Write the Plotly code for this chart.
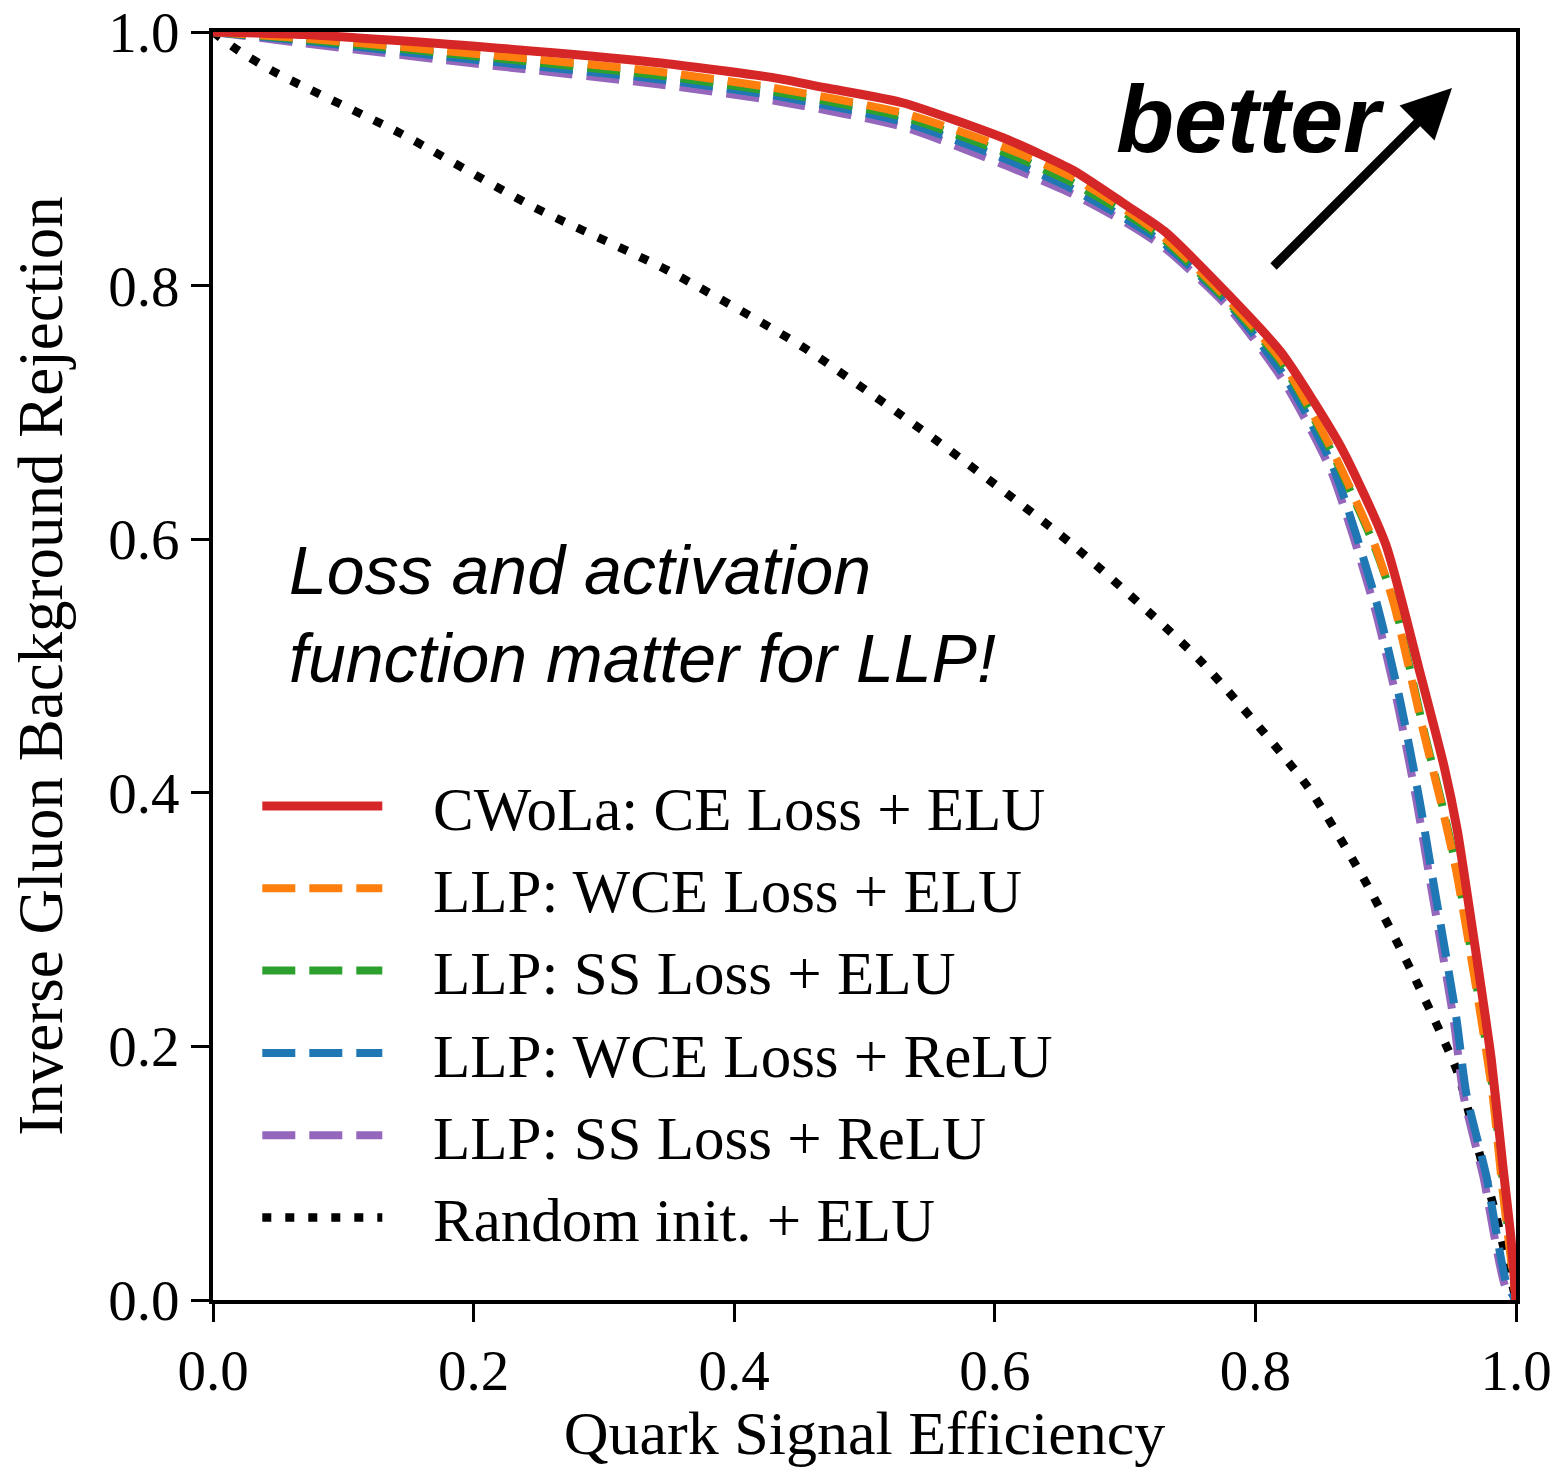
import plotly.graph_objects as go

# ---- data ----
names = [
    "CWoLa: CE Loss + ELU",
    "LLP: WCE Loss + ELU",
    "LLP: SS Loss + ELU",
    "LLP: WCE Loss + ReLU",
    "LLP: SS Loss + ReLU",
    "Random init. + ELU",
]

cwola_x = [0, 0.07, 0.21, 0.34, 0.43, 0.47, 0.53, 0.61, 0.66, 0.70, 0.73, 0.78, 0.82, 0.865, 0.90, 0.926, 0.945, 0.955, 0.964, 0.972, 0.981, 0.990, 0.996, 1.0]
cwola_y = [1.0, 0.998, 0.988, 0.976, 0.964, 0.956, 0.944, 0.915, 0.891, 0.864, 0.843, 0.792, 0.747, 0.674, 0.596, 0.496, 0.42, 0.37, 0.31, 0.255, 0.19, 0.105, 0.05, 0.0]

wce_elu_x = [0, 0.07, 0.21, 0.34, 0.43, 0.53, 0.61, 0.66, 0.70, 0.73, 0.78, 0.82, 0.86, 0.89, 0.906, 0.929, 0.942, 0.954, 0.972, 0.982, 0.990, 1.0]
wce_elu_y = [1.0, 0.995, 0.982, 0.969, 0.956, 0.936, 0.908, 0.885, 0.860, 0.838, 0.788, 0.741, 0.668, 0.600, 0.550, 0.448, 0.394, 0.339, 0.230, 0.162, 0.084, 0.0]

ss_elu_x = [0, 0.07, 0.21, 0.34, 0.43, 0.53, 0.61, 0.66, 0.70, 0.73, 0.78, 0.82, 0.86, 0.89, 0.907, 0.930, 0.943, 0.955, 0.973, 0.983, 0.991, 1.0]
ss_elu_y = [1.0, 0.994, 0.980, 0.966, 0.953, 0.933, 0.904, 0.881, 0.857, 0.836, 0.786, 0.739, 0.666, 0.598, 0.548, 0.446, 0.392, 0.337, 0.228, 0.160, 0.082, 0.0]

wce_relu_x = [0, 0.07, 0.21, 0.34, 0.43, 0.53, 0.61, 0.66, 0.70, 0.73, 0.78, 0.824, 0.86, 0.893, 0.911, 0.926, 0.936, 0.954, 0.962, 0.977, 0.993, 1.0]
wce_relu_y = [1.0, 0.993, 0.977, 0.963, 0.950, 0.929, 0.899, 0.876, 0.853, 0.833, 0.785, 0.726, 0.656, 0.550, 0.473, 0.394, 0.333, 0.224, 0.162, 0.099, 0.012, 0.0]

ss_relu_x = [0, 0.07, 0.21, 0.34, 0.43, 0.53, 0.61, 0.66, 0.70, 0.73, 0.78, 0.822, 0.858, 0.891, 0.909, 0.924, 0.934, 0.952, 0.960, 0.975, 0.992, 1.0]
ss_relu_y = [1.0, 0.991, 0.974, 0.959, 0.946, 0.925, 0.894, 0.872, 0.850, 0.830, 0.782, 0.724, 0.654, 0.548, 0.471, 0.392, 0.331, 0.222, 0.160, 0.097, 0.010, 0.0]

random_x = [0, 0.02, 0.048, 0.144, 0.246, 0.349, 0.452, 0.555, 0.658, 0.757, 0.84, 0.886, 0.919, 0.955, 0.969, 0.985, 1.0]
random_y = [1.0, 0.985, 0.968, 0.920, 0.862, 0.812, 0.752, 0.678, 0.597, 0.505, 0.405, 0.327, 0.261, 0.180, 0.127, 0.065, 0.0]

x_ticks = [0.0, 0.2, 0.4, 0.6, 0.8, 1.0]
y_ticks = [0.0, 0.2, 0.4, 0.6, 0.8, 1.0]
tick_text = ["0.0", "0.2", "0.4", "0.6", "0.8", "1.0"]

# ---- styling ----
colors = ["#d62728", "#ff7f0e", "#2ca02c", "#1f77b4", "#9467bd", "black"]
DASH = "33px,14px"
DOT = "9px,14px"
PAD = "\u00a0\u00a0\u00a0"

series = [
    (random_x, random_y, names[5], colors[5], DOT, 8.5, 6),
    (ss_relu_x, ss_relu_y, names[4], colors[4], DASH, 8, 5),
    (wce_relu_x, wce_relu_y, names[3], colors[3], DASH, 8, 4),
    (ss_elu_x, ss_elu_y, names[2], colors[2], DASH, 8, 3),
    (wce_elu_x, wce_elu_y, names[1], colors[1], DASH, 8, 2),
    (cwola_x, cwola_y, names[0], colors[0], "solid", 9, 1),
]

fig = go.Figure()
for xs, ys, nm, c, dash, w, rank in series:
    fig.add_trace(go.Scatter(
        x=xs, y=ys, mode="lines", name=PAD + nm, legendrank=rank,
        line=dict(color=c, dash=dash, width=w, shape="spline", smoothing=0.6),
    ))

serif = "Liberation Serif, DejaVu Serif, serif"
sans = "Liberation Sans, Arial, Helvetica, sans-serif"

axis_common = dict(
    range=[0, 1], showgrid=False, zeroline=False, automargin=False,
    showline=True, linecolor="black", linewidth=4, mirror=True,
    ticks="outside", ticklen=18, tickwidth=3, tickcolor="black",
    tickfont=dict(family=serif, size=57, color="black"),
    tickvals=x_ticks, ticktext=tick_text,
)

fig.update_layout(
    width=1558, height=1467,
    margin=dict(l=213, r=42, t=32, b=167),
    paper_bgcolor="white", plot_bgcolor="white",
    xaxis=dict(**axis_common,
               title=dict(text="Quark Signal Efficiency",
                          font=dict(family=serif, size=62, color="black"),
                          standoff=18)),
    yaxis=dict(**{**axis_common, "tickvals": y_ticks},
               title=dict(text="Inverse Gluon Background Rejection",
                          font=dict(family=serif, size=63, color="black"),
                          standoff=26)),
    legend=dict(
        x=0.034, y=0.426, xanchor="left", yanchor="top",
        bgcolor="rgba(0,0,0,0)", borderwidth=0,
        font=dict(family=serif, size=61, color="black"),
        itemwidth=120, tracegroupgap=0,
    ),
    showlegend=True,
    annotations=[
        dict(text="<i>Loss and activation<br>function matter for LLP!</i>",
             xref="paper", yref="paper", x=(287 - 213) / 1303, y=(1300 - 530) / 1268,
             xanchor="left", yanchor="top", align="left", showarrow=False,
             font=dict(family=sans, size=68, color="black")),
        dict(text="<b><i>better</i></b>",
             xref="paper", yref="paper", x=(1114 - 213) / 1303, y=(1300 - 119) / 1268,
             xanchor="left", yanchor="middle", showarrow=False,
             font=dict(family=sans, size=95, color="black")),
        dict(text="", x=(1452 - 213) / 1303, y=(1300 - 88) / 1268,
             ax=(1272 - 213) / 1303, ay=(1300 - 268) / 1268,
             xref="x", yref="y", axref="x", ayref="y",
             showarrow=True, arrowhead=2, arrowsize=1.1, arrowwidth=9,
             arrowcolor="black"),
    ],
)

fig.write_html("out.html")
